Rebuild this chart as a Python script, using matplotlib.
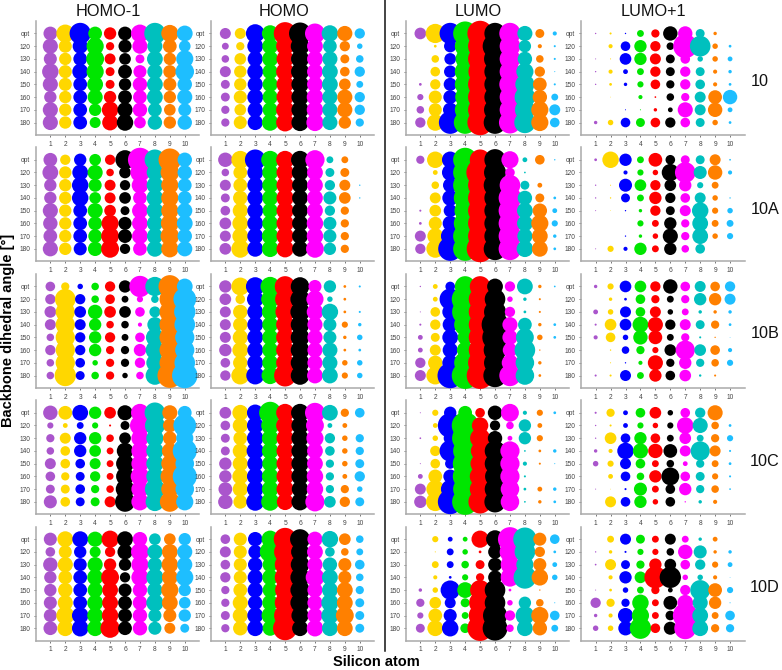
import matplotlib
matplotlib.use("Agg")
import matplotlib.pyplot as plt

plt.rcParams['font.family'] = ['Liberation Sans', 'DejaVu Sans']

W, H = 782, 670

angles = ['opt', '120', '130', '140', '150', '160', '170', '180']
atoms = [1, 2, 3, 4, 5, 6, 7, 8, 9, 10]
cores = ['#AA55CC', '#FFD700', '#0000FF', '#00E600', '#FF0000',
         '#000000', '#FF00FF', '#00C0BE', '#FF8000', '#1EBEFF']

orbitais = ['HOMO-1', 'HOMO', 'LUMO', 'LUMO+1']
moleculas = ['10', '10A', '10B', '10C', '10D']

# diametro aparente das bolhas, linhas = angulo, colunas = atomo de Si
homo1_10 = [[40, 52, 62, 40, 36, 40, 52, 62, 50, 46],
            [44, 38, 44, 50, 24, 38, 44, 44, 40, 34],
            [38, 36, 40, 52, 32, 34, 26, 46, 36, 50],
            [48, 38, 46, 50, 26, 40, 38, 44, 38, 54],
            [44, 38, 40, 46, 26, 36, 42, 46, 38, 42],
            [36, 36, 40, 44, 36, 40, 40, 46, 36, 44],
            [44, 36, 40, 36, 48, 44, 42, 40, 34, 38],
            [44, 36, 40, 32, 46, 48, 34, 42, 36, 42]]
homo_10 = [[32, 32, 54, 48, 66, 64, 58, 48, 44, 30],
           [20, 24, 46, 46, 52, 54, 46, 40, 30, 16],
           [22, 34, 44, 46, 50, 52, 46, 44, 26, 22],
           [32, 36, 46, 44, 52, 52, 46, 46, 28, 30],
           [26, 36, 44, 44, 50, 50, 46, 46, 34, 20],
           [26, 38, 46, 44, 50, 50, 48, 44, 44, 30],
           [24, 34, 44, 44, 52, 50, 48, 44, 44, 30],
           [24, 38, 44, 48, 52, 50, 50, 44, 36, 24]]
lumo_10 = [[34, 56, 62, 70, 74, 62, 62, 44, 26, 12],
           [0, 8, 36, 60, 70, 72, 60, 36, 12, 6],
           [0, 22, 34, 56, 70, 64, 60, 42, 22, 6],
           [0, 28, 36, 60, 68, 62, 60, 50, 30, 3],
           [8, 30, 38, 60, 70, 62, 62, 56, 40, 6],
           [18, 38, 40, 58, 70, 62, 60, 60, 42, 20],
           [22, 38, 42, 60, 70, 64, 60, 58, 50, 32],
           [30, 48, 66, 66, 74, 66, 64, 62, 50, 28]]
lumo1_10 = [[4, 6, 4, 20, 24, 42, 42, 26, 10, 0],
            [0, 12, 28, 36, 30, 22, 70, 60, 16, 8],
            [3, 3, 34, 36, 32, 26, 28, 16, 16, 14],
            [4, 12, 14, 20, 30, 26, 30, 26, 12, 10],
            [4, 8, 10, 18, 28, 24, 30, 28, 12, 8],
            [0, 2, 0, 12, 5, 22, 24, 32, 40, 42],
            [0, 0, 3, 3, 10, 14, 44, 32, 42, 14],
            [10, 16, 28, 26, 28, 30, 28, 26, 16, 8]]

homo1_10a = [[40, 30, 36, 34, 30, 56, 70, 60, 66, 42],
             [46, 36, 46, 44, 22, 34, 56, 48, 54, 42],
             [36, 36, 48, 38, 32, 30, 48, 48, 50, 40],
             [36, 36, 48, 34, 32, 34, 40, 48, 50, 40],
             [44, 36, 40, 44, 34, 26, 46, 48, 50, 44],
             [42, 36, 40, 40, 50, 38, 46, 46, 52, 46],
             [40, 36, 40, 40, 52, 40, 46, 46, 54, 42],
             [44, 36, 38, 42, 52, 30, 40, 46, 50, 44]]
homo_10a = [[42, 52, 60, 52, 52, 52, 56, 20, 20, 0],
            [22, 40, 46, 46, 50, 48, 46, 26, 26, 0],
            [32, 40, 46, 46, 50, 46, 46, 30, 32, 4],
            [26, 42, 46, 46, 50, 46, 46, 38, 34, 4],
            [28, 44, 46, 44, 50, 46, 46, 30, 24, 0],
            [34, 46, 46, 46, 50, 46, 48, 38, 24, 0],
            [32, 46, 46, 48, 50, 46, 48, 38, 24, 0],
            [34, 52, 46, 48, 50, 46, 52, 36, 24, 0]]
lumo_10a = [[24, 48, 48, 70, 60, 62, 50, 14, 28, 4],
            [0, 14, 48, 70, 80, 64, 28, 5, 0, 0],
            [0, 22, 42, 70, 70, 66, 60, 26, 14, 0],
            [0, 32, 46, 66, 70, 62, 66, 42, 26, 8],
            [6, 34, 38, 62, 70, 62, 66, 46, 42, 14],
            [8, 38, 44, 66, 70, 62, 66, 46, 50, 18],
            [32, 46, 54, 70, 70, 62, 66, 44, 46, 10],
            [30, 52, 70, 70, 78, 66, 66, 48, 46, 8]]
lumo1_10a = [[8, 48, 36, 20, 40, 28, 26, 26, 32, 5],
             [0, 0, 12, 18, 16, 50, 60, 38, 42, 12],
             [4, 3, 38, 34, 30, 34, 36, 18, 20, 0],
             [4, 4, 26, 20, 36, 30, 28, 32, 16, 4],
             [3, 2, 4, 10, 30, 26, 32, 48, 18, 16],
             [0, 0, 0, 18, 20, 36, 24, 46, 20, 20],
             [0, 0, 4, 10, 16, 44, 24, 46, 16, 18],
             [3, 18, 12, 36, 20, 36, 22, 28, 0, 0]]

homo1_10b = [[28, 24, 16, 22, 30, 36, 62, 56, 66, 46],
             [30, 60, 30, 22, 28, 20, 18, 22, 60, 66],
             [34, 56, 34, 42, 34, 34, 28, 32, 60, 62],
             [32, 56, 32, 36, 22, 22, 12, 44, 60, 60],
             [22, 56, 30, 36, 30, 20, 28, 52, 60, 56],
             [30, 56, 30, 36, 24, 24, 36, 54, 60, 56],
             [22, 56, 28, 16, 24, 24, 30, 50, 60, 60],
             [22, 62, 26, 22, 24, 16, 22, 54, 72, 74]]
homo_10b = [[36, 52, 54, 56, 60, 54, 38, 36, 8, 6],
            [34, 28, 48, 52, 58, 56, 50, 16, 8, 0],
            [32, 42, 46, 48, 56, 56, 48, 48, 8, 6],
            [32, 42, 46, 46, 52, 54, 44, 38, 18, 10],
            [32, 44, 46, 46, 52, 54, 44, 38, 10, 16],
            [36, 46, 46, 46, 52, 54, 44, 44, 8, 8],
            [28, 42, 46, 46, 52, 54, 44, 44, 16, 16],
            [30, 52, 52, 50, 64, 54, 46, 46, 18, 16]]
lumo_10b = [[4, 14, 28, 60, 60, 46, 30, 46, 10, 5],
            [0, 14, 62, 78, 66, 60, 16, 10, 6, 0],
            [3, 28, 46, 76, 66, 64, 30, 8, 6, 0],
            [6, 30, 44, 64, 66, 78, 44, 40, 10, 8],
            [14, 26, 46, 44, 66, 74, 44, 52, 16, 8],
            [14, 32, 44, 48, 66, 66, 42, 60, 4, 0],
            [30, 42, 46, 64, 70, 64, 48, 54, 10, 0],
            [32, 52, 74, 78, 78, 68, 62, 54, 8, 0]]
lumo1_10b = [[10, 18, 34, 34, 30, 42, 28, 32, 28, 30],
             [0, 10, 8, 28, 24, 20, 24, 36, 36, 32],
             [14, 16, 32, 28, 32, 16, 20, 10, 10, 10],
             [6, 34, 34, 46, 44, 30, 32, 26, 24, 8],
             [12, 28, 16, 42, 40, 20, 24, 6, 4, 2],
             [0, 4, 22, 24, 18, 34, 56, 34, 28, 12],
             [0, 3, 4, 12, 44, 24, 36, 24, 22, 18],
             [6, 6, 32, 20, 36, 28, 34, 7, 6, 0]]

homo1_10c = [[42, 40, 46, 36, 34, 44, 52, 60, 44, 40],
             [18, 14, 20, 18, 6, 26, 58, 58, 40, 66],
             [24, 32, 36, 36, 22, 34, 50, 50, 40, 50],
             [22, 28, 36, 34, 20, 48, 50, 50, 46, 70],
             [32, 28, 28, 32, 20, 52, 50, 50, 50, 54],
             [28, 24, 26, 30, 20, 52, 54, 50, 54, 70],
             [26, 26, 28, 24, 22, 54, 50, 58, 50, 54],
             [38, 28, 26, 26, 32, 58, 50, 54, 58, 50]]
homo_10c = [[34, 46, 48, 64, 52, 52, 58, 46, 24, 28],
            [28, 44, 48, 52, 52, 50, 52, 14, 14, 0],
            [26, 40, 48, 48, 50, 50, 50, 30, 16, 24],
            [26, 44, 50, 48, 50, 50, 46, 28, 16, 24],
            [36, 44, 46, 46, 50, 50, 46, 24, 16, 26],
            [36, 46, 48, 48, 50, 50, 48, 24, 14, 30],
            [40, 44, 48, 48, 50, 48, 48, 24, 24, 16],
            [42, 40, 52, 52, 48, 50, 56, 34, 30, 26]]
lumo_10c = [[3, 18, 36, 40, 28, 42, 52, 12, 18, 8],
            [0, 14, 72, 78, 48, 30, 22, 36, 14, 0],
            [5, 16, 38, 76, 58, 42, 14, 36, 18, 0],
            [0, 30, 62, 70, 54, 60, 56, 5, 8, 10],
            [3, 28, 30, 72, 56, 60, 56, 12, 6, 3],
            [14, 40, 40, 72, 60, 58, 56, 6, 0, 0],
            [32, 52, 54, 70, 60, 60, 54, 8, 14, 10],
            [36, 54, 72, 76, 68, 62, 54, 5, 10, 8]]
lumo1_10c = [[6, 24, 14, 28, 34, 16, 28, 30, 44, 0],
             [4, 6, 14, 18, 16, 18, 48, 44, 22, 8],
             [4, 34, 28, 36, 28, 20, 34, 20, 24, 18],
             [10, 12, 48, 44, 42, 40, 32, 56, 32, 6],
             [16, 18, 32, 28, 20, 22, 14, 24, 20, 8],
             [0, 14, 28, 22, 36, 52, 28, 26, 18, 6],
             [3, 2, 6, 38, 20, 28, 36, 24, 22, 5],
             [0, 32, 28, 36, 16, 28, 4, 10, 12, 0]]

homo1_10d = [[38, 46, 46, 44, 50, 46, 42, 34, 34, 36],
             [28, 38, 36, 32, 30, 44, 52, 44, 46, 44],
             [42, 44, 38, 44, 36, 36, 50, 42, 48, 44],
             [36, 40, 40, 46, 52, 30, 50, 50, 46, 50],
             [36, 42, 40, 44, 46, 38, 42, 44, 50, 36],
             [38, 44, 40, 46, 46, 40, 42, 50, 46, 34],
             [38, 52, 48, 46, 48, 40, 42, 38, 38, 36],
             [40, 46, 48, 46, 56, 40, 42, 38, 32, 26]]
homo_10d = [[28, 38, 42, 50, 66, 58, 44, 48, 34, 22],
            [32, 38, 40, 60, 64, 52, 46, 28, 22, 20],
            [28, 38, 42, 44, 60, 54, 44, 42, 38, 28],
            [30, 38, 44, 46, 60, 56, 54, 46, 38, 22],
            [24, 40, 44, 44, 58, 56, 44, 46, 46, 24],
            [24, 44, 42, 46, 60, 56, 44, 50, 46, 26],
            [26, 44, 46, 50, 64, 50, 44, 50, 52, 26],
            [24, 42, 46, 44, 70, 46, 48, 46, 46, 26]]
lumo_10d = [[0, 18, 14, 14, 50, 52, 70, 68, 38, 28],
            [0, 3, 20, 16, 8, 40, 60, 60, 30, 8],
            [0, 20, 20, 22, 26, 40, 54, 50, 38, 14],
            [0, 12, 8, 18, 24, 40, 54, 66, 48, 16],
            [10, 16, 56, 46, 58, 60, 8, 0, 4, 0],
            [24, 34, 32, 26, 64, 60, 16, 36, 22, 3],
            [18, 40, 38, 20, 66, 70, 30, 54, 50, 28],
            [26, 46, 48, 28, 74, 72, 22, 46, 42, 20]]
lumo1_10d = [[0, 20, 32, 26, 20, 32, 20, 10, 14, 0],
             [4, 10, 6, 18, 18, 22, 42, 38, 10, 10],
             [5, 32, 26, 24, 36, 34, 28, 30, 18, 14],
             [0, 12, 36, 34, 64, 62, 16, 16, 12, 2],
             [3, 8, 16, 20, 24, 14, 30, 58, 40, 18],
             [30, 24, 24, 48, 20, 40, 46, 44, 36, 3],
             [10, 12, 44, 50, 20, 28, 72, 46, 20, 28],
             [16, 16, 42, 62, 28, 38, 64, 46, 24, 24]]

paineis = [[homo1_10, homo_10, lumo_10, lumo1_10],
           [homo1_10a, homo_10a, lumo_10a, lumo1_10a],
           [homo1_10b, homo_10b, lumo_10b, lumo1_10b],
           [homo1_10c, homo_10c, lumo_10c, lumo1_10c],
           [homo1_10d, homo_10d, lumo_10d, lumo1_10d]]

# posicoes em pixels da imagem
col_esq = [35.7, 210.7, 405.7, 581]
col_larg = 163.7
lin_base = [135, 261.3, 388, 514.3, 640.7]
lin_alt = 114
titulo_x = [108, 284, 478, 653]
mol_x = [760, 765, 765, 765, 765]
mol_y = [81, 210, 334, 462, 587]


def txt(fig, x, y, s, **kw):
    fig.text(x / W, 1 - y / H, s, ha='center', va='center', **kw)


def desenha_painel(fig, dados, x0, base):
    ax = fig.add_axes([x0 / W, 1 - base / H, col_larg / W, lin_alt / H])
    ax.patch.set_alpha(0)
    for j, atomo in enumerate(atoms):
        xs, ys, ss = [], [], []
        for i in range(len(angles)):
            d = dados[i][j]
            if d > 0:
                xs.append(atomo)
                ys.append(i)
                # de px do zoom (3x) para pontos^2
                ss.append((d * 1.03 / 3 * 0.72) ** 2)
        ax.scatter(xs, ys, s=ss, color=cores[j], linewidths=0, clip_on=False, zorder=3 + j)
    ax.set_xlim(0.02, 10.98)
    ax.set_ylim(7.98, -0.98)
    ax.set_xticks(atoms)
    ax.set_yticks(range(len(angles)))
    ax.set_yticklabels(angles)
    ax.tick_params(labelsize=4.8, colors='#444444', length=1.5, width=0.5, pad=2.5)
    for lado in ['top', 'right']:
        ax.spines[lado].set_visible(False)
    for lado in ['left', 'bottom']:
        ax.spines[lado].set_color('#AAAAAA')
        ax.spines[lado].set_linewidth(1.1)
    return ax


fig = plt.figure(figsize=(W / 100, H / 100), dpi=100)

for lin, base in enumerate(lin_base):
    for col, x0 in enumerate(col_esq):
        desenha_painel(fig, paineis[lin][col], x0, base)

for x, nome in zip(titulo_x, orbitais):
    txt(fig, x, 11, nome, fontsize=11.7, color='#111111')
for x, y, nome in zip(mol_x, mol_y, moleculas):
    txt(fig, x, y, nome, fontsize=11.7, color='#111111')

txt(fig, 8, 330, 'Backbone dihedral angle [°]', fontsize=10.5, fontweight='bold', rotation=90)
txt(fig, 376, 662.5, 'Silicon atom', fontsize=10.5, fontweight='bold')

# linha separando HOMO de LUMO
fig.add_artist(plt.Line2D([384.5 / W, 384.5 / W], [1 - 651 / H, 1], color='#111111', lw=1.1))

fig.savefig('out.png', dpi=100)
plt.close(fig)
